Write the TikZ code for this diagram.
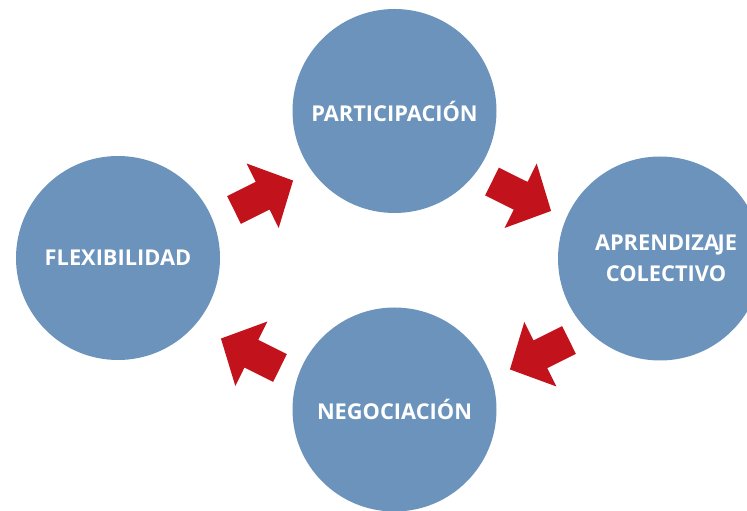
\documentclass[tikz,border=0pt]{standalone}
\usepackage{fontspec}
\setmainfont{Open Sans}
\usepackage{tikz}
\usetikzlibrary{positioning}
\definecolor{circblue}{RGB}{107,147,187}
\definecolor{arrowred}{RGB}{194,19,28}
\tikzset{
  idea/.style={circle, fill=circblue, minimum size=204pt, inner sep=0pt},
  idealabel/.style={text=white, font=\bfseries\fontsize{21.8}{31}\selectfont, align=center},
  blockarrow/.style={fill=arrowred, draw=none}
}

\begin{document}
\begin{tikzpicture}[x=1pt, y=1pt]
  \useasboundingbox (0,0) rectangle (747,511);
  \clip (0,0) rectangle (747,511);

  % the four circles
  \node[idea] (part) at (394.5,400) {};
  \node[idea] (flex) at (118,253) {};
  \node[idea] (apre) at (660,252.5) {};
  \node[idea] (nego) at (394.5,101.5) {};

  \node[idealabel] (partlabel) at (part.center) {PARTICIPACIÓN};
  \node[idealabel] (flexlabel) at (flex.center) {FLEXIBILIDAD};
  \node[idealabel] (aprelabel) at ([xshift=6pt]apre.center) {APRENDIZA\kern-1.5pt JE\\COLECTIVO};
  \node[idealabel] (negolabel) at (nego.center) {NEGOCIACIÓN};

  % red arrows
  \begin{scope}[shift={(234,301)}, rotate=26.5]
    \fill[blockarrow] (0,-15.5)--(32,-15.5)--(32,-36)--(66,0)--(32,36)--(32,15.5)--(0,15.5)--cycle;
  \end{scope}

  \begin{scope}[shift={(492,329.5)}, rotate=-26.5]
    \fill[blockarrow] (0,-15.5)--(32,-15.5)--(32,-36)--(66,0)--(32,36)--(32,15.5)--(0,15.5)--cycle;
  \end{scope}

  \begin{scope}[shift={(569,171)}, rotate=206.5]
    \fill[blockarrow] (0,-15.5)--(32,-15.5)--(32,-36)--(66,0)--(32,36)--(32,15.5)--(0,15.5)--cycle;
  \end{scope}

  \begin{scope}[shift={(280,143)}, rotate=153.5]
    \fill[blockarrow] (0,-15.5)--(32,-15.5)--(32,-36)--(66,0)--(32,36)--(32,15.5)--(0,15.5)--cycle;
  \end{scope}

\end{tikzpicture}
\end{document}
